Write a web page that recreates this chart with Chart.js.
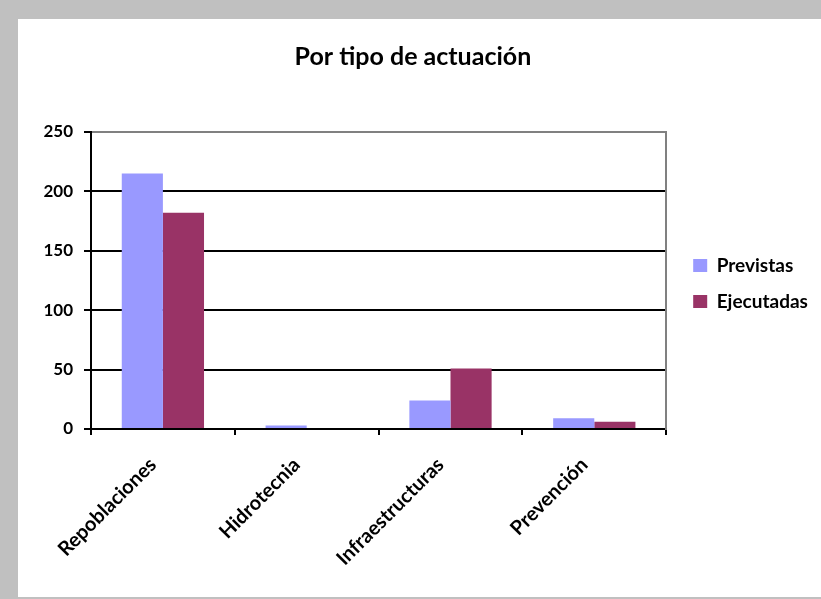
<!DOCTYPE html>
<html>
<head>
<meta charset="utf-8">
<script src="https://cdn.jsdelivr.net/npm/chart.js@4.4.1/dist/chart.umd.min.js"></script>
<style>
    html, body { margin: 0; padding: 0; background: #c0c0c0; }
    body { width: 821px; height: 599px; position: relative; overflow: hidden; }
    .frame { position: absolute; left: 18px; top: 19px; width: 803px; height: 578px; background: #fff; }
</style>
</head>
<body>
<div class="frame"><canvas id="chart" width="803" height="578"></canvas></div>
<script>
const categories = ['Repoblaciones', 'Hidrotecnia', 'Infraestructuras', 'Prevención'];
const previstas = [215, 3, 24, 9];
const ejecutadas = [182, 0, 51, 6];
const yTicks = [0, 50, 100, 150, 200, 250];

const FONT = "Lato, 'Open Sans', sans-serif";
const legendFont = { family: FONT, size: 19, weight: 'bold' };
const legendPad = 17;
const legendBox = 14;
const gapAxis = 10;
const plotRight = 646;   // right edge of the plot area inside the canvas

// keep the legend centred on the plot area, not on the whole right column
const legendAlign = {
    id: 'legendAlign',
    afterLayout(chart) {
        const a = chart.chartArea, lg = chart.legend;
        if (!lg) return;
        lg.top = a.top + 3;
        lg.bottom = a.bottom + 3;
        lg.height = lg.bottom - lg.top;
    }
};

const chart = new Chart(document.getElementById('chart'), {
    type: 'bar',
    data: {
        labels: categories,
        datasets: [
            { label: 'Previstas', data: previstas, backgroundColor: '#9999ff' },
            { label: 'Ejecutadas', data: ejecutadas, backgroundColor: '#993366' }
        ]
    },
    plugins: [legendAlign],
    options: {
        responsive: false,
        animation: false,
        devicePixelRatio: 1,
        categoryPercentage: 0.572,
        barPercentage: 1,
        layout: { padding: { left: 0, right: 0, top: 0, bottom: 0 } },
        scales: {
            x: {
                grid: { drawOnChartArea: false, tickLength: 6, tickColor: '#000', lineWidth: 2, offset: true },
                border: { color: '#000', width: 2 },
                ticks: {
                    color: '#000', font: { family: FONT, size: 20, weight: 'bold' },
                    minRotation: 45, maxRotation: 45, padding: 18, labelOffset: -10
                },
                afterFit: s => { s.height = 168; }
            },
            y: {
                min: 0, max: 250,
                afterBuildTicks: s => { s.ticks = yTicks.map(v => ({ value: v })); },
                grid: {
                    color: c => (c.tick && c.tick.value === 250 ? '#808080' : '#000'),
                    tickColor: '#000', lineWidth: 2, tickLength: 7
                },
                border: { color: '#000', width: 2 },
                ticks: { color: '#000', font: { family: FONT, size: 17, weight: 'bold' }, padding: 11 },
                afterFit: s => { s.width = 73; }
            },
            // right edge of the plot frame, also spaces the legend off the plot
            y2: {
                position: 'right', min: 0, max: 250,
                grid: { drawOnChartArea: false, drawTicks: false },
                border: { color: '#808080', width: 2 },
                ticks: { display: false },
                afterFit: s => { s.width = gapAxis; }
            }
        },
        plugins: {
            title: {
                display: true, text: 'Por tipo de actuación', color: '#000',
                font: { family: FONT, size: 25, weight: 'bold' },
                padding: { top: 23, bottom: 60 }
            },
            legend: {
                position: 'right', align: 'center',
                labels: { color: '#000', font: legendFont, boxWidth: legendBox, boxHeight: 13, padding: legendPad }
            },
            tooltip: { enabled: false }
        }
    }
});

// pull the plot edge to where the reference has it
const diff = plotRight - chart.chartArea.right;
if (Math.abs(diff) > 0.5) {
    chart.options.layout.padding.right = Math.max(0, -diff);
    chart.update();
}
</script>
</body>
</html>
